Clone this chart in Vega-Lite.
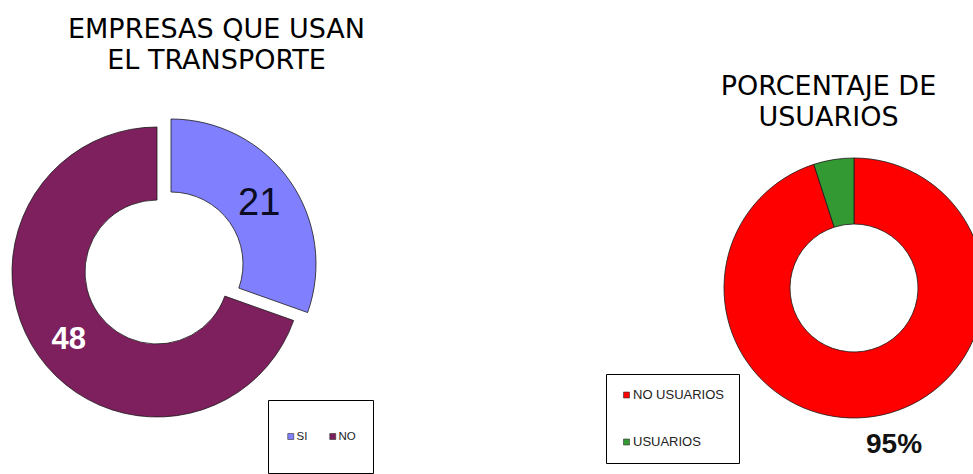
{
  "$schema": "https://vega.github.io/schema/vega-lite/v6.json",
  "background": "white",
  "padding": {"top": 16, "left": 0, "right": 0, "bottom": 0},
  "spacing": 421,
  "bounds": "flush",
  "config": {"view": {"stroke": null}},
  "resolve": {"scale": {"color": "independent", "theta": "independent"}, "legend": {"color": "independent"}},
  "hconcat": [
    {
      "width": 314,
      "height": 306,
      "title": {"text": ["EMPRESAS QUE USAN", "EL TRANSPORTE"], "font": "DejaVu Sans", "fontSize": 27, "lineHeight": 31, "fontWeight": "normal", "color": "black", "anchor": "middle", "dx": 59.5, "offset": 42},
      "data": {"values": [
        {"respuesta": "SI", "empresas": 21, "orden": 1},
        {"respuesta": "NO", "empresas": 48, "orden": 2}
      ]},
      "layer": [
        {
          "mark": {"type": "arc", "innerRadius": 72, "outerRadius": 145, "stroke": "#1a1a1a", "strokeWidth": 0.8},
          "encoding": {
            "theta": {"field": "empresas", "type": "quantitative", "stack": true},
            "order": {"field": "orden", "type": "quantitative"},
            "color": {"field": "respuesta", "type": "nominal",
              "scale": {"domain": ["SI", "NO"], "range": ["#8080FF", "#7E1F5E"]},
              "legend": {"orient": "none", "legendX": 268, "legendY": 281, "direction": "horizontal", "title": null,
                "strokeColor": "black", "fillColor": "white", "padding": 17, "columnPadding": 19,
                "symbolType": "square", "symbolSize": 36, "symbolStrokeColor": "#333", "symbolStrokeWidth": 0.6,
                "labelFont": "Liberation Sans", "labelFontSize": 11.5, "labelColor": "#222", "labelOffset": 0, "clipHeight": 39}},
            "opacity": {"condition": {"test": "datum.respuesta === 'SI'", "value": 0}, "value": 1}
          }
        },
        {
          "mark": {"type": "arc", "innerRadius": 72, "outerRadius": 145, "stroke": "#1a1a1a", "strokeWidth": 0.8, "xOffset": 14, "yOffset": -8},
          "encoding": {
            "theta": {"field": "empresas", "type": "quantitative", "stack": true},
            "order": {"field": "orden", "type": "quantitative"},
            "color": {"field": "respuesta", "type": "nominal"},
            "opacity": {"condition": {"test": "datum.respuesta === 'SI'", "value": 1}, "value": 0}
          }
        },
        {
          "mark": {"type": "text", "radius": 108, "xOffset": 14, "yOffset": -8, "dy": 2, "font": "Liberation Sans", "fontSize": 38, "color": "#0b0b22"},
          "encoding": {
            "theta": {"field": "empresas", "type": "quantitative", "stack": true},
            "order": {"field": "orden", "type": "quantitative"},
            "detail": {"field": "respuesta", "type": "nominal"},
            "text": {"condition": {"test": "datum.respuesta === 'SI'", "field": "empresas", "type": "quantitative"}, "value": ""}
          }
        },
        {
          "mark": {"type": "text", "radius": 108, "dy": 6, "font": "Liberation Sans", "fontSize": 31, "fontWeight": "bold", "color": "white"},
          "encoding": {
            "theta": {"field": "empresas", "type": "quantitative", "stack": true},
            "order": {"field": "orden", "type": "quantitative"},
            "detail": {"field": "respuesta", "type": "nominal"},
            "text": {"condition": {"test": "datum.respuesta === 'NO'", "field": "empresas", "type": "quantitative"}, "value": ""}
          }
        }
      ]
    },
    {
      "width": 238,
      "height": 338,
      "title": {"text": ["PORCENTAJE DE", "USUARIOS"], "font": "DejaVu Sans", "fontSize": 27, "lineHeight": 31, "fontWeight": "normal", "color": "black", "anchor": "middle", "dx": -25.5, "offset": -17},
      "data": {"values": [
        {"grupo": "NO USUARIOS", "porcentaje": 95, "orden": 1},
        {"grupo": "USUARIOS", "porcentaje": 5, "orden": 2}
      ]},
      "transform": [{"calculate": "datum.porcentaje + '%'", "as": "etiqueta"}],
      "layer": [
        {
          "mark": {"type": "arc", "innerRadius": 64, "outerRadius": 130, "stroke": "#1a1a1a", "strokeWidth": 0.8},
          "encoding": {
            "theta": {"field": "porcentaje", "type": "quantitative", "stack": true},
            "order": {"field": "orden", "type": "quantitative"},
            "color": {"field": "grupo", "type": "nominal",
              "scale": {"domain": ["NO USUARIOS", "USUARIOS"], "range": ["#FF0000", "#339933"]},
              "legend": {"orient": "none", "legendX": -129, "legendY": 255, "direction": "vertical", "title": null,
                "strokeColor": "black", "fillColor": "white", "padding": 14, "rowPadding": 33,
                "symbolType": "square", "symbolSize": 36, "symbolStrokeColor": "#333", "symbolStrokeWidth": 0.6,
                "labelFont": "Liberation Sans", "labelFontSize": 13, "labelColor": "#222", "labelOffset": 0, "clipHeight": 14}}
          }
        },
        {
          "mark": {"type": "text", "radius": 160, "dx": 15, "dy": -1, "font": "Liberation Sans", "fontSize": 28, "fontWeight": "bold", "color": "#111"},
          "encoding": {
            "theta": {"field": "porcentaje", "type": "quantitative", "stack": true},
            "order": {"field": "orden", "type": "quantitative"},
            "detail": {"field": "grupo", "type": "nominal"},
            "text": {"condition": {"test": "datum.grupo === 'NO USUARIOS'", "field": "etiqueta", "type": "nominal"}, "value": ""}
          }
        }
      ]
    }
  ]
}
